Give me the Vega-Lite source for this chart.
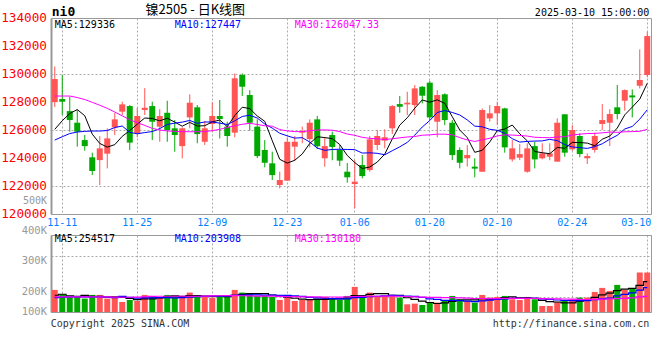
{
"$schema": "https://vega.github.io/schema/vega-lite/v6.json",
"background": "white",
"padding": {"left": 0, "top": 3, "right": 0, "bottom": 0},
"config": {"view": {"stroke": "#999999", "strokeWidth": 1}, "axis": {"labelFont": "DejaVu Sans Mono"}},
"datasets": {"k": [
{"d":"2024-11-08","o":127990,"h":130540,"l":127640,"c":129640,"v":184800,"m5":126047,"m10":125283,"m30":128426,"vm5":140000,"vm10":120400,"vm30":126000},
{"d":"2024-11-11","o":128210,"h":129920,"l":127070,"c":128020,"v":148400,"m5":126661,"m10":125519,"m30":128426,"vm5":148400,"vm10":123200,"vm30":126000},
{"d":"2024-11-12","o":127350,"h":128380,"l":125880,"c":126710,"v":126000,"m5":127176,"m10":125747,"m30":128426,"vm5":134400,"vm10":126000,"vm30":126000},
{"d":"2024-11-13","o":126520,"h":127430,"l":124810,"c":125880,"v":126000,"m5":127461,"m10":125854,"m30":128319,"vm5":131600,"vm10":126000,"vm30":126000},
{"d":"2024-11-14","o":125280,"h":125640,"l":124520,"c":124850,"v":112000,"m5":127020,"m10":125904,"m30":128176,"vm5":139440,"vm10":126000,"vm30":126000},
{"d":"2024-11-15","o":124050,"h":124380,"l":122780,"c":123070,"v":142800,"m5":125706,"m10":125926,"m30":127976,"vm5":131040,"vm10":126000,"vm30":126000},
{"d":"2024-11-18","o":123850,"h":125570,"l":122070,"c":124690,"v":142800,"m5":125040,"m10":125926,"m30":127769,"vm5":129920,"vm10":126000,"vm30":126000},
{"d":"2024-11-19","o":124310,"h":126120,"l":123260,"c":125400,"v":112000,"m5":124778,"m10":125961,"m30":127547,"vm5":127120,"vm10":123200,"vm30":126000},
{"d":"2024-11-20","o":126190,"h":127210,"l":125640,"c":126760,"v":126000,"m5":124954,"m10":126176,"m30":127283,"vm5":127120,"vm10":120400,"vm30":124600},
{"d":"2024-11-21","o":127310,"h":128020,"l":127070,"c":127830,"v":84000,"m5":125550,"m10":126285,"m30":127011,"vm5":121520,"vm10":130480,"vm30":123200},
{"d":"2024-11-22","o":127710,"h":127780,"l":124570,"c":125100,"v":100800,"m5":125956,"m10":125831,"m30":126733,"vm5":113120,"vm10":122080,"vm30":123200},
{"d":"2024-11-25","o":125760,"h":127590,"l":125480,"c":127000,"v":92400,"m5":126418,"m10":125729,"m30":126526,"vm5":103040,"vm10":116480,"vm30":124600},
{"d":"2024-11-26","o":127430,"h":128990,"l":127070,"c":127590,"v":142800,"m5":126856,"m10":125817,"m30":126326,"vm5":109200,"vm10":118160,"vm30":127400},
{"d":"2024-11-27","o":127710,"h":128020,"l":125280,"c":126590,"v":126000,"m5":126822,"m10":125888,"m30":126119,"vm5":109200,"vm10":118160,"vm30":130200},
{"d":"2024-11-28","o":126240,"h":127480,"l":125160,"c":127000,"v":126000,"m5":126656,"m10":126103,"m30":125997,"vm5":117600,"vm10":119560,"vm30":131600},
{"d":"2024-11-29","o":127230,"h":128090,"l":125160,"c":126000,"v":142800,"m5":126836,"m10":126396,"m30":125933,"vm5":126000,"vm10":119560,"vm30":131600},
{"d":"2024-12-02","o":126120,"h":126710,"l":124450,"c":125640,"v":134400,"m5":126564,"m10":126491,"m30":125904,"vm5":134400,"vm10":118720,"vm30":131600},
{"d":"2024-12-03","o":124850,"h":126190,"l":123980,"c":126120,"v":120400,"m5":126270,"m10":126563,"m30":125883,"vm5":129920,"vm10":119560,"vm30":131600},
{"d":"2024-12-04","o":126900,"h":128550,"l":126120,"c":127950,"v":162400,"m5":126542,"m10":126682,"m30":125876,"vm5":137200,"vm10":123200,"vm30":131600},
{"d":"2024-12-05","o":127620,"h":127780,"l":125050,"c":125710,"v":126000,"m5":126284,"m10":126470,"m30":125876,"vm5":137200,"vm10":127400,"vm30":131600},
{"d":"2024-12-06","o":125160,"h":126640,"l":124930,"c":126120,"v":126000,"m5":126308,"m10":126572,"m30":125883,"vm5":133840,"vm10":129920,"vm30":133000},
{"d":"2024-12-09","o":126430,"h":127980,"l":125880,"c":127000,"v":120400,"m5":126580,"m10":126572,"m30":125954,"vm5":131040,"vm10":132720,"vm30":134400},
{"d":"2024-12-10","o":127000,"h":128140,"l":125400,"c":126780,"v":134400,"m5":126712,"m10":126491,"m30":126047,"vm5":133840,"vm10":131880,"vm30":135800},
{"d":"2024-12-11","o":126240,"h":126590,"l":124810,"c":125570,"v":134400,"m5":126236,"m10":126389,"m30":126183,"vm5":128240,"vm10":132720,"vm30":137200},
{"d":"2024-12-12","o":125810,"h":130040,"l":125480,"c":129690,"v":184800,"m5":127032,"m10":126658,"m30":126297,"vm5":140000,"vm10":138600,"vm30":137200},
{"d":"2024-12-13","o":129930,"h":130040,"l":128430,"c":129090,"v":162400,"m5":127626,"m10":126967,"m30":126411,"vm5":147280,"vm10":140560,"vm30":135800},
{"d":"2024-12-16","o":128500,"h":128850,"l":125950,"c":126520,"v":154000,"m5":127530,"m10":127055,"m30":126476,"vm5":154000,"vm10":142520,"vm30":134400},
{"d":"2024-12-17","o":126240,"h":126760,"l":123990,"c":124140,"v":134400,"m5":127002,"m10":126857,"m30":126397,"vm5":154000,"vm10":143920,"vm30":133000},
{"d":"2024-12-18","o":124570,"h":125280,"l":123330,"c":123660,"v":134400,"m5":126620,"m10":126428,"m30":126304,"vm5":154000,"vm10":141120,"vm30":133000},
{"d":"2024-12-19","o":123620,"h":124450,"l":122430,"c":122780,"v":126000,"m5":125238,"m10":126135,"m30":126271,"vm5":142240,"vm10":141120,"vm30":133000},
{"d":"2024-12-20","o":122070,"h":123020,"l":121830,"c":122430,"v":100800,"m5":123906,"m10":125766,"m30":126031,"vm5":129920,"vm10":138600,"vm30":130200},
{"d":"2024-12-23","o":122380,"h":125480,"l":122380,"c":125160,"v":120400,"m5":123634,"m10":125582,"m30":125936,"vm5":123200,"vm10":138600,"vm30":129267},
{"d":"2024-12-24","o":124810,"h":125570,"l":123800,"c":125160,"v":92400,"m5":123838,"m10":125420,"m30":125884,"vm5":114800,"vm10":134400,"vm30":128147},
{"d":"2024-12-25","o":125810,"h":126240,"l":125050,"c":125920,"v":100800,"m5":124290,"m10":125455,"m30":125885,"vm5":108080,"vm10":131040,"vm30":127307},
{"d":"2024-12-26","o":125350,"h":126760,"l":124760,"c":126520,"v":100800,"m5":125038,"m10":125138,"m30":125941,"vm5":103040,"vm10":122640,"vm30":126933},
{"d":"2024-12-27","o":126760,"h":127000,"l":124640,"c":124840,"v":112000,"m5":125520,"m10":124713,"m30":126000,"vm5":105280,"vm10":117600,"vm30":125907},
{"d":"2024-12-30","o":123980,"h":125480,"l":123380,"c":124850,"v":126000,"m5":125458,"m10":124546,"m30":126005,"vm5":106400,"vm10":114800,"vm30":125347},
{"d":"2024-12-31","o":125640,"h":125880,"l":123840,"c":124790,"v":112000,"m5":125384,"m10":124611,"m30":125985,"vm5":110320,"vm10":112560,"vm30":125347},
{"d":"2025-01-02","o":124570,"h":124930,"l":123430,"c":123810,"v":100800,"m5":124962,"m10":124626,"m30":125887,"vm5":110320,"vm10":109200,"vm30":124507},
{"d":"2025-01-03","o":123020,"h":123640,"l":122240,"c":122620,"v":134400,"m5":124182,"m10":124610,"m30":125713,"vm5":117040,"vm10":110040,"vm30":126187},
{"d":"2025-01-06","o":122140,"h":123840,"l":120400,"c":122310,"v":210000,"m5":123676,"m10":124598,"m30":125620,"vm5":136640,"vm10":120960,"vm30":129827},
{"d":"2025-01-07","o":123500,"h":124210,"l":122550,"c":122710,"v":126000,"m5":123248,"m10":124353,"m30":125477,"vm5":136640,"vm10":121520,"vm30":130947},
{"d":"2025-01-08","o":123140,"h":125570,"l":123020,"c":125330,"v":162400,"m5":123356,"m10":124370,"m30":125402,"vm5":146720,"vm10":128520,"vm30":131600},
{"d":"2025-01-09","o":124930,"h":126000,"l":124570,"c":125570,"v":134400,"m5":123708,"m10":124335,"m30":125368,"vm5":153440,"vm10":131880,"vm30":131880},
{"d":"2025-01-10","o":125240,"h":126050,"l":124690,"c":125480,"v":134400,"m5":124280,"m10":124231,"m30":125317,"vm5":153440,"vm10":135240,"vm30":132160},
{"d":"2025-01-13","o":126120,"h":127780,"l":125710,"c":127710,"v":142800,"m5":125360,"m10":124518,"m30":125374,"vm5":140000,"vm10":138320,"vm30":132160},
{"d":"2025-01-14","o":127850,"h":128430,"l":127230,"c":127660,"v":120400,"m5":126350,"m10":124799,"m30":125441,"vm5":138880,"vm10":137760,"vm30":131693},
{"d":"2025-01-15","o":127830,"h":128730,"l":127070,"c":127950,"v":64400,"m5":126874,"m10":125115,"m30":125502,"vm5":119280,"vm10":133000,"vm30":129827},
{"d":"2025-01-16","o":127780,"h":129210,"l":127070,"c":128970,"v":70000,"m5":127554,"m10":125631,"m30":125536,"vm5":106400,"vm10":129920,"vm30":126747},
{"d":"2025-01-17","o":129090,"h":129140,"l":127900,"c":128450,"v":58800,"m5":128148,"m10":126214,"m30":125627,"vm5":91280,"vm10":122360,"vm30":124507},
{"d":"2025-01-20","o":129380,"h":129520,"l":126710,"c":126900,"v":84000,"m5":127986,"m10":126673,"m30":125653,"vm5":79520,"vm10":109760,"vm30":123107},
{"d":"2025-01-21","o":126590,"h":128850,"l":125480,"c":128500,"v":78400,"m5":128154,"m10":127252,"m30":125703,"vm5":71120,"vm10":105000,"vm30":121707},
{"d":"2025-01-22","o":128550,"h":128620,"l":126350,"c":126710,"v":92400,"m5":127906,"m10":127390,"m30":125701,"vm5":76720,"vm10":98000,"vm30":120307},
{"d":"2025-01-23","o":126520,"h":126710,"l":123850,"c":124210,"v":134400,"m5":126954,"m10":127254,"m30":125656,"vm5":89600,"vm10":98000,"vm30":120307},
{"d":"2025-01-24","o":124570,"h":124760,"l":123260,"c":123660,"v":106400,"m5":125996,"m10":127072,"m30":125455,"vm5":99120,"vm10":95200,"vm30":117693},
{"d":"2025-01-27","o":123980,"h":124930,"l":123380,"c":124210,"v":92400,"m5":125458,"m10":126722,"m30":125292,"vm5":100800,"vm10":90160,"vm30":115360},
{"d":"2025-02-05","o":123380,"h":123980,"l":122620,"c":123240,"v":78400,"m5":124406,"m10":126280,"m30":125183,"vm5":100800,"vm10":85960,"vm30":112840},
{"d":"2025-02-06","o":123020,"h":127540,"l":123020,"c":127430,"v":142800,"m5":124550,"m10":126228,"m30":125293,"vm5":110880,"vm10":93800,"vm30":113120},
{"d":"2025-02-07","o":126830,"h":127780,"l":126590,"c":127190,"v":120400,"m5":125146,"m10":126050,"m30":125411,"vm5":108080,"vm10":98840,"vm30":112653},
{"d":"2025-02-10","o":127190,"h":128020,"l":126350,"c":127710,"v":126000,"m5":125956,"m10":125976,"m30":125575,"vm5":112000,"vm10":105560,"vm30":112653},
{"d":"2025-02-11","o":127540,"h":127590,"l":124380,"c":124760,"v":134400,"m5":126066,"m10":125762,"m30":125653,"vm5":120400,"vm10":110600,"vm30":113773},
{"d":"2025-02-12","o":123900,"h":125280,"l":123740,"c":124690,"v":106400,"m5":126356,"m10":125381,"m30":125637,"vm5":126000,"vm10":113400,"vm30":113307},
{"d":"2025-02-13","o":124020,"h":125000,"l":123850,"c":124280,"v":100800,"m5":125726,"m10":125138,"m30":125608,"vm5":117600,"vm10":114240,"vm30":113587},
{"d":"2025-02-14","o":123020,"h":125050,"l":122950,"c":124690,"v":126000,"m5":125226,"m10":125186,"m30":125567,"vm5":118720,"vm10":113400,"vm30":114427},
{"d":"2025-02-17","o":124850,"h":125160,"l":123260,"c":123900,"v":106400,"m5":124464,"m10":125210,"m30":125480,"vm5":114800,"vm10":113400,"vm30":114613},
{"d":"2025-02-18","o":123980,"h":125050,"l":123900,"c":124330,"v":50400,"m5":124378,"m10":125222,"m30":125463,"vm5":98000,"vm10":109200,"vm30":112560},
{"d":"2025-02-19","o":124090,"h":125050,"l":123840,"c":124330,"v":50400,"m5":124306,"m10":125331,"m30":125446,"vm5":86800,"vm10":106400,"vm30":110040},
{"d":"2025-02-20","o":123740,"h":126830,"l":123740,"c":126520,"v":84000,"m5":124754,"m10":125240,"m30":125504,"vm5":83440,"vm10":100520,"vm30":109107},
{"d":"2025-02-21","o":127120,"h":127120,"l":124090,"c":124380,"v":92400,"m5":124692,"m10":124959,"m30":125523,"vm5":76720,"vm10":97720,"vm30":108827},
{"d":"2025-02-24","o":124620,"h":126350,"l":124520,"c":126000,"v":106400,"m5":125112,"m10":124788,"m30":125636,"vm5":76720,"vm10":95760,"vm30":107893},
{"d":"2025-02-25","o":125570,"h":125760,"l":124050,"c":124280,"v":120400,"m5":125102,"m10":124740,"m30":125702,"vm5":90720,"vm10":94360,"vm30":104907},
{"d":"2025-02-26","o":123980,"h":124330,"l":123570,"c":124140,"v":120400,"m5":125064,"m10":124685,"m30":125750,"vm5":104720,"vm10":95760,"vm30":104720},
{"d":"2025-02-27","o":124570,"h":125810,"l":124380,"c":125570,"v":168000,"m5":124874,"m10":124814,"m30":125758,"vm5":121520,"vm10":102480,"vm30":104907},
{"d":"2025-02-28","o":126430,"h":127850,"l":126000,"c":126710,"v":201600,"m5":125340,"m10":125016,"m30":125796,"vm5":143360,"vm10":110040,"vm30":107147},
{"d":"2025-03-03","o":126520,"h":127480,"l":124850,"c":127140,"v":176400,"m5":125568,"m10":125340,"m30":125851,"vm5":157360,"vm10":117040,"vm30":108547},
{"d":"2025-03-04","o":127620,"h":129210,"l":126760,"c":127140,"v":226800,"m5":126140,"m10":125621,"m30":125832,"vm5":178640,"vm10":134680,"vm30":111347},
{"d":"2025-03-05","o":128090,"h":128900,"l":127380,"c":128850,"v":184800,"m5":127082,"m10":126073,"m30":125872,"vm5":191520,"vm10":148120,"vm30":113493},
{"d":"2025-03-06","o":128470,"h":128900,"l":126900,"c":128330,"v":196000,"m5":127634,"m10":126254,"m30":125885,"vm5":197120,"vm10":159320,"vm30":117880},
{"d":"2025-03-07","o":129160,"h":131760,"l":128970,"c":129570,"v":330400,"m5":128206,"m10":126773,"m30":125905,"vm5":222880,"vm10":183120,"vm30":126560},
{"d":"2025-03-10","o":129930,"h":133020,"l":129760,"c":132710,"v":330400,"m5":129336,"m10":127447,"m30":126047.33,"vm5":254517,"vm10":203908,"vm30":130180}
]},
"vconcat": [
{
"width": 600, "height": 196,
"data": {"name": "k"},
"layer": [
 {"mark": {"type": "rule", "strokeWidth": 1},
  "encoding": {
   "x": {"field": "d", "type": "ordinal", "title": null,
    "scale": {"paddingInner": 0.2, "paddingOuter": 0.1},
    "axis": {"values": ["2024-11-11","2024-11-25","2024-12-09","2024-12-23","2025-01-06","2025-01-20","2025-02-10","2025-02-24","2025-03-10"],
     "labelExpr": "substring(datum.value, 5)", "labelAngle": 0, "labelColor": "#0080ff", "labelFont": "DejaVu Sans Mono", "labelFontSize": 10,
     "labelAlign": {"condition": {"test": "datum.value == '2025-03-10'", "value": "right"}, "value": "center"},
     "labelOffset": {"condition": {"test": "datum.value == '2025-03-10'", "value": 4}, "value": 0},
     "labelPadding": 3, "ticks": false, "domain": false, "grid": true, "gridColor": "#aaaaaa", "gridDash": [2,2],
     "bandPosition": 0.5, "labelOverlap": false}},
   "y": {"field": "l", "type": "quantitative", "title": null,
     "scale": {"domain": [120000, 134000], "nice": false, "zero": false},
     "axis": {"values": [122000, 124000, 126000, 128000, 130000, 132000],
       "labels": false, "ticks": false,
       "domain": true, "domainColor": "#999999", "domainWidth": 2,
       "grid": true, "gridColor": "#aaaaaa", "gridDash": [2,2]}},
   "y2": {"field": "h"},
   "color": {"condition": {"test": "datum.c >= datum.o", "value": "#ff5555"}, "value": "#00a800"}}},
 {"mark": {"type": "bar"},
  "encoding": {
   "x": {"field": "d", "type": "ordinal", "title": null},
   "y": {"field": "o", "type": "quantitative", "title": null},
   "y2": {"field": "c"},
   "color": {"condition": {"test": "datum.c >= datum.o", "value": "#ff5555"}, "value": "#00a800"}}},
 {"mark": {"type": "line", "color": "#000000", "strokeWidth": 1}, "encoding": {"x": {"field": "d", "type": "ordinal", "title": null}, "y": {"field": "m5", "type": "quantitative", "title": null}}},
 {"mark": {"type": "line", "color": "#0000ff", "strokeWidth": 1}, "encoding": {"x": {"field": "d", "type": "ordinal", "title": null}, "y": {"field": "m10", "type": "quantitative", "title": null}}},
 {"mark": {"type": "line", "color": "#ff00ff", "strokeWidth": 1}, "encoding": {"x": {"field": "d", "type": "ordinal", "title": null}, "y": {"field": "m30", "type": "quantitative", "title": null}}},
 {"data": {"values": [{"t": 120000}, {"t": 122000}, {"t": 124000}, {"t": 126000}, {"t": 128000}, {"t": 130000}, {"t": 132000}, {"t": 134000}]},
  "mark": {"type": "text", "align": "right", "baseline": "middle", "font": "DejaVu Sans Mono", "fontSize": 12.7, "color": "#ff0000", "dx": -7.75},
  "encoding": {"x": {"datum": "2024-11-08", "type": "ordinal"}, "y": {"field": "t", "type": "quantitative", "title": null}, "text": {"field": "t", "type": "quantitative", "format": "d"}}},
 {"data": {"values": [{}]}, "mark": {"type": "text", "align": "right", "baseline": "middle", "font": "DejaVu Sans Mono", "fontSize": 10, "color": "#999999", "text": "500K", "dx": -7.75},
  "encoding": {"x": {"datum": "2024-11-08", "type": "ordinal"}, "y": {"datum": 120950, "type": "quantitative"}}},
 {"data": {"values": [{}]}, "mark": {"type": "text", "align": "left", "baseline": "middle", "font": "DejaVu Sans Mono", "fontSize": 10, "color": "#000000", "text": "MA5:129336"},
  "encoding": {"x": {"datum": "2024-11-08", "type": "ordinal"}, "y": {"datum": 133521, "type": "quantitative"}}},
 {"data": {"values": [{}]}, "mark": {"type": "text", "align": "left", "baseline": "middle", "font": "DejaVu Sans Mono", "fontSize": 10, "color": "#0000ff", "text": "MA10:127447"},
  "encoding": {"x": {"datum": "2024-12-02", "type": "ordinal"}, "y": {"datum": 133521, "type": "quantitative"}}},
 {"data": {"values": [{}]}, "mark": {"type": "text", "align": "left", "baseline": "middle", "font": "DejaVu Sans Mono", "fontSize": 10, "color": "#ff00ff", "text": "MA30:126047.33"},
  "encoding": {"x": {"datum": "2024-12-24", "type": "ordinal"}, "y": {"datum": 133521, "type": "quantitative"}}},
 {"data": {"values": [{}]}, "mark": {"type": "text", "align": "left", "baseline": "middle", "font": "DejaVu Sans Mono", "fontSize": 13, "fontWeight": "bold", "color": "#000000", "text": "ni0", "dx": -3},
  "encoding": {"x": {"datum": "2024-11-08", "type": "ordinal"}, "y": {"datum": 134450, "type": "quantitative"}}},
 {"data": {"values": [{}]}, "mark": {"type": "text", "align": "center", "baseline": "middle", "font": "Noto Sans CJK SC", "fontSize": 13, "color": "#000000", "text": "镍2505 - 日K线图", "dx": -2},
  "encoding": {"x": {"datum": "2024-12-05", "type": "ordinal"}, "y": {"datum": 134536, "type": "quantitative"}}},
 {"data": {"values": [{}]}, "mark": {"type": "text", "align": "right", "baseline": "middle", "font": "DejaVu Sans Mono", "fontSize": 10, "color": "#000000", "text": "2025-03-10 15:00:00", "dx": 2},
  "encoding": {"x": {"datum": "2025-03-10", "type": "ordinal"}, "y": {"datum": 134379, "type": "quantitative"}}}
]
},
{
"width": 600, "height": 77,
"data": {"name": "k"},
"layer": [
 {"mark": {"type": "bar"},
  "encoding": {
   "x": {"field": "d", "type": "ordinal", "title": null,
    "scale": {"paddingInner": 0.2, "paddingOuter": 0.1},
    "axis": {"values": ["2024-11-11","2024-11-25","2024-12-09","2024-12-23","2025-01-06","2025-01-20","2025-02-10","2025-02-24","2025-03-10"],
     "labels": false, "ticks": false, "domain": false, "grid": true, "gridColor": "#aaaaaa", "gridDash": [2,2], "bandPosition": 0.5}},
   "y": {"field": "v", "type": "quantitative", "title": null,
     "scale": {"domain": [0, 644000], "nice": false},
     "axis": {"values": [126000, 296800, 464800], "labels": false, "ticks": false,
       "domain": true, "domainColor": "#999999", "domainWidth": 2,
       "grid": true, "gridColor": "#aaaaaa", "gridDash": [2,2]}},
   "color": {"condition": {"test": "datum.c >= datum.o", "value": "#ff5555"}, "value": "#00a800"}}},
 {"mark": {"type": "line", "color": "#000000", "strokeWidth": 1.2, "interpolate": "step"}, "encoding": {"x": {"field": "d", "type": "ordinal", "title": null}, "y": {"field": "vm5", "type": "quantitative", "title": null}}},
 {"mark": {"type": "line", "color": "#0000ff", "strokeWidth": 1.2, "interpolate": "step"}, "encoding": {"x": {"field": "d", "type": "ordinal", "title": null}, "y": {"field": "vm10", "type": "quantitative", "title": null}}},
 {"mark": {"type": "line", "color": "#ff00ff", "strokeWidth": 1.2, "interpolate": "step"}, "encoding": {"x": {"field": "d", "type": "ordinal", "title": null}, "y": {"field": "vm30", "type": "quantitative", "title": null}}},
 {"data": {"values": [{"t": 0, "s": "100K"}, {"t": 168000, "s": "200K"}, {"t": 428400, "s": "300K"}, {"t": 680000, "s": "400K"}]},
  "mark": {"type": "text", "align": "right", "baseline": "middle", "font": "DejaVu Sans Mono", "fontSize": 10.5, "color": "#999999", "dx": -7.75},
  "encoding": {"x": {"datum": "2024-11-08", "type": "ordinal"}, "y": {"field": "t", "type": "quantitative", "title": null}, "text": {"field": "s", "type": "nominal"}}},
 {"data": {"values": [{}]}, "mark": {"type": "text", "align": "left", "baseline": "middle", "font": "DejaVu Sans Mono", "fontSize": 10, "color": "#000000", "text": "MA5:254517"},
  "encoding": {"x": {"datum": "2024-11-08", "type": "ordinal"}, "y": {"datum": 607200, "type": "quantitative"}}},
 {"data": {"values": [{}]}, "mark": {"type": "text", "align": "left", "baseline": "middle", "font": "DejaVu Sans Mono", "fontSize": 10, "color": "#0000ff", "text": "MA10:203908"},
  "encoding": {"x": {"datum": "2024-12-02", "type": "ordinal"}, "y": {"datum": 607200, "type": "quantitative"}}},
 {"data": {"values": [{}]}, "mark": {"type": "text", "align": "left", "baseline": "middle", "font": "DejaVu Sans Mono", "fontSize": 10, "color": "#ff00ff", "text": "MA30:130180"},
  "encoding": {"x": {"datum": "2024-12-24", "type": "ordinal"}, "y": {"datum": 607200, "type": "quantitative"}}},
 {"data": {"values": [{}]}, "mark": {"type": "text", "align": "left", "baseline": "middle", "font": "DejaVu Sans Mono", "fontSize": 10, "color": "#333333", "text": "Copyright 2025 SINA.COM", "dx": -4},
  "encoding": {"x": {"datum": "2024-11-08", "type": "ordinal"}, "y": {"datum": -103700, "type": "quantitative"}}},
 {"data": {"values": [{}]}, "mark": {"type": "text", "align": "right", "baseline": "middle", "font": "DejaVu Sans Mono", "fontSize": 10, "color": "#333333", "text": "http://finance.sina.com.cn", "dx": 2},
  "encoding": {"x": {"datum": "2025-03-10", "type": "ordinal"}, "y": {"datum": -103700, "type": "quantitative"}}}
]
}
],
"spacing": 21,
"bounds": "flush"
}
